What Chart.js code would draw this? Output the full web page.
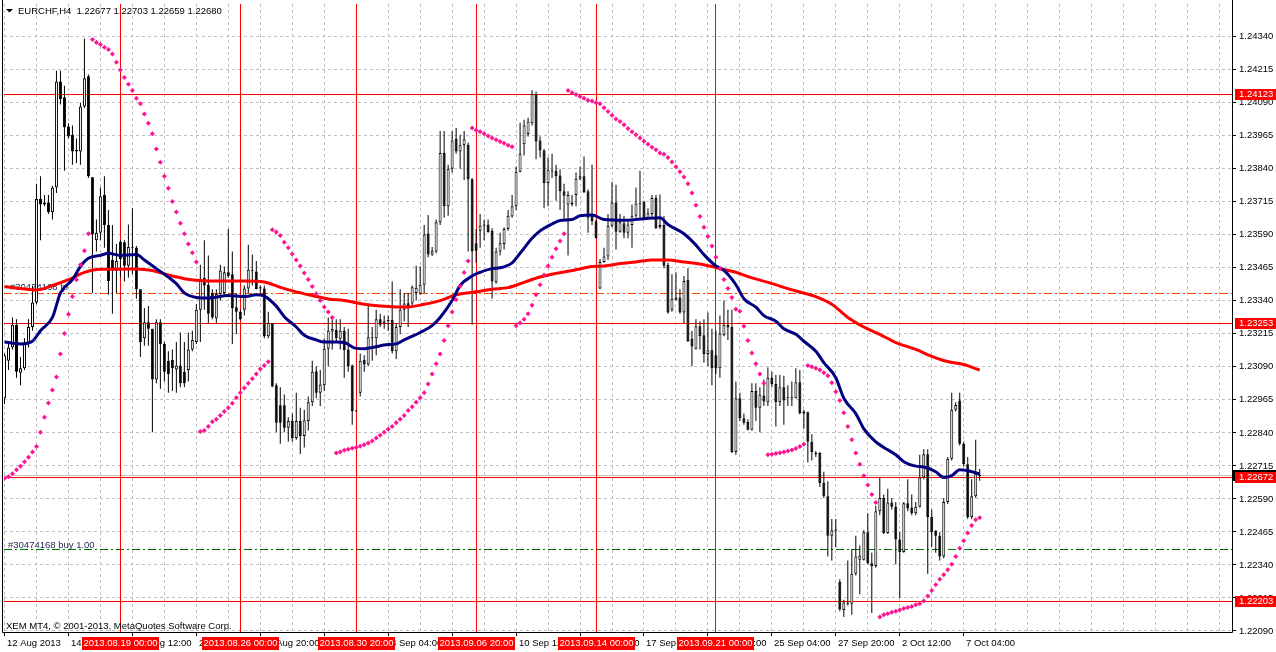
<!DOCTYPE html>
<html>
<head>
<meta charset="utf-8">
<title>EURCHF,H4</title>
<script src="https://cdn.jsdelivr.net/npm/chart.js@4.4.0/dist/chart.umd.min.js"></script>
<style>
  html, body { margin: 0; padding: 0; background: #fff; }
  canvas { display: block; }
</style>
</head>
<body>
<canvas id="chart" width="1276" height="652"></canvas>
<script>
// Данные графика EURCHF, H4 (номер бара = позиция по оси X)
const timeLabels = ['12 Aug 2013', '14 Aug 16:00', '19 Aug 12:00', '22 Aug 04:00', '26 Aug 20:00', '29 Aug 12:00',
    '3 Sep 04:00', '5 Sep 20:00', '10 Sep 12:00', '13 Sep 04:00', '17 Sep 20:00', '20 Sep 12:00',
    '25 Sep 04:00', '27 Sep 20:00', '2 Oct 12:00', '7 Oct 04:00'];

const priceTicks = [1.22090, 1.22215, 1.22340, 1.22465, 1.22590, 1.22715, 1.22840, 1.22965, 1.23090, 1.23215,
    1.23340, 1.23465, 1.23590, 1.23715, 1.23840, 1.23965, 1.24090, 1.24215, 1.24340];

const opens = [
    1.22971, 1.23113, 1.23163, 1.23249, 1.23068, 1.23085, 1.23177, 1.23241, 1.23334, 1.23726,
    1.23705, 1.23712, 1.23676, 1.23769, 1.24171, 1.24111, 1.24000, 1.23969, 1.23905, 1.23905,
    1.24076, 1.24190, 1.23808, 1.23569, 1.23598, 1.23741, 1.23627, 1.23495, 1.23455, 1.23565,
    1.23562, 1.23473, 1.23544, 1.23541, 1.23384, 1.23198, 1.23259, 1.23234, 1.23042, 1.23259,
    1.23177, 1.23113, 1.23116, 1.23080, 1.23095, 1.23071, 1.23078, 1.23156, 1.23184, 1.23306,
    1.23427, 1.23401, 1.23370, 1.23273, 1.23366, 1.23370, 1.23448, 1.23441, 1.23316, 1.23299,
    1.23306, 1.23387, 1.23452, 1.23451, 1.23391, 1.23387, 1.23206, 1.23256, 1.23020, 1.22945,
    1.22945, 1.22859, 1.22885, 1.22821, 1.22885, 1.22828, 1.22885, 1.22956, 1.23073, 1.22992,
    1.23020, 1.23159, 1.23224, 1.23230, 1.23196, 1.23227, 1.23156, 1.23095, 1.22923, 1.22992,
    1.23116, 1.23099, 1.23202, 1.23198, 1.23270, 1.23253, 1.23267, 1.23267, 1.23149, 1.23241,
    1.23306, 1.23331, 1.23330, 1.23370, 1.23367, 1.23401, 1.23595, 1.23515, 1.23527, 1.23638,
    1.23900, 1.23698, 1.23840, 1.23955, 1.23905, 1.23929, 1.23930, 1.23800, 1.23558, 1.23605,
    1.23624, 1.23629, 1.23605, 1.23410, 1.23527, 1.23555, 1.23612, 1.23659, 1.23698, 1.23829,
    1.23933, 1.23972, 1.24012, 1.24123, 1.23947, 1.23909, 1.23786, 1.23830, 1.23833, 1.23815,
    1.23755, 1.23705, 1.23705, 1.23741, 1.23802, 1.23812, 1.23755, 1.23662, 1.23641, 1.23387,
    1.23487, 1.23508, 1.23624, 1.23712, 1.23602, 1.23634, 1.23598, 1.23627, 1.23662, 1.23706,
    1.23715, 1.23652, 1.23669, 1.23729, 1.23627, 1.23627, 1.23477, 1.23306, 1.23344, 1.23353,
    1.23296, 1.23420, 1.23196, 1.23159, 1.23244, 1.23210, 1.23139, 1.23153, 1.23134, 1.23085,
    1.23210, 1.23249, 1.23241, 1.22768, 1.22971, 1.22895, 1.22881, 1.22852, 1.22999, 1.22935,
    1.22982, 1.22956, 1.23049, 1.23025, 1.22956, 1.23013, 1.22974, 1.22971, 1.22971, 1.23032,
    1.22921, 1.22918, 1.22806, 1.22764, 1.22764, 1.22650, 1.22600, 1.22450, 1.22469, 1.22275,
    1.22169, 1.22193, 1.22193, 1.22307, 1.22360, 1.22360, 1.22464, 1.22346, 1.22336, 1.22543,
    1.22593, 1.22460, 1.22576, 1.22560, 1.22436, 1.22389, 1.22574, 1.22557, 1.22536, 1.22560,
    1.22671, 1.22759, 1.22521, 1.22469, 1.22450, 1.22372, 1.22578, 1.22742, 1.22928, 1.22963,
    1.22799, 1.22721, 1.22521, 1.22600, 1.22677
];

const highs = [
    1.23141, 1.23184, 1.23277, 1.23270, 1.23127, 1.23198, 1.23270, 1.23398, 1.23783, 1.23812,
    1.23741, 1.23741, 1.23776, 1.24211, 1.24211, 1.24154, 1.24012, 1.24004, 1.23955, 1.24090,
    1.24332, 1.24197, 1.23808, 1.23648, 1.23769, 1.23812, 1.23684, 1.23627, 1.23555, 1.23569,
    1.23569, 1.23629, 1.23691, 1.23548, 1.23384, 1.23313, 1.23320, 1.23234, 1.23270, 1.23270,
    1.23184, 1.23149, 1.23156, 1.23184, 1.23220, 1.23184, 1.23220, 1.23227, 1.23327, 1.23477,
    1.23569, 1.23512, 1.23384, 1.23384, 1.23477, 1.23470, 1.23612, 1.23527, 1.23370, 1.23306,
    1.23398, 1.23552, 1.23515, 1.23491, 1.23398, 1.23398, 1.23299, 1.23256, 1.23028, 1.23013,
    1.22985, 1.22899, 1.22913, 1.22992, 1.22935, 1.22928, 1.22978, 1.23113, 1.23092, 1.23078,
    1.23198, 1.23277, 1.23277, 1.23270, 1.23270, 1.23241, 1.23234, 1.23099, 1.22928, 1.23141,
    1.23134, 1.23320, 1.23241, 1.23306, 1.23291, 1.23284, 1.23284, 1.23413, 1.23256, 1.23384,
    1.23370, 1.23370, 1.23398, 1.23473, 1.23470, 1.23627, 1.23665, 1.23544, 1.23648, 1.23983,
    1.23983, 1.23855, 1.23983, 1.23994, 1.23969, 1.23983, 1.23940, 1.23805, 1.23612, 1.23669,
    1.23648, 1.23648, 1.23615, 1.23541, 1.23598, 1.23619, 1.23684, 1.23741, 1.23848, 1.24014,
    1.24026, 1.24033, 1.24137, 1.24133, 1.23962, 1.23915, 1.23883, 1.23897, 1.23855, 1.23838,
    1.23783, 1.23755, 1.23741, 1.23826, 1.23848, 1.23887, 1.23762, 1.23855, 1.23648, 1.23498,
    1.23541, 1.23669, 1.23790, 1.23780, 1.23669, 1.23662, 1.23648, 1.23705, 1.23769, 1.23833,
    1.23719, 1.23691, 1.23741, 1.23741, 1.23743, 1.23662, 1.23484, 1.23441, 1.23448, 1.23384,
    1.23434, 1.23463, 1.23227, 1.23270, 1.23263, 1.23270, 1.23296, 1.23234, 1.23227, 1.23284,
    1.23341, 1.23306, 1.23306, 1.23035, 1.22992, 1.22913, 1.22892, 1.23028, 1.23028, 1.23013,
    1.23042, 1.23088, 1.23071, 1.23059, 1.23059, 1.23056, 1.23020, 1.23035, 1.23085, 1.23078,
    1.22928, 1.22921, 1.22835, 1.22771, 1.22768, 1.22693, 1.22657, 1.22514, 1.22514, 1.22286,
    1.22208, 1.22357, 1.22400, 1.22450, 1.22414, 1.22471, 1.22536, 1.22386, 1.22564, 1.22671,
    1.22607, 1.22628, 1.22593, 1.22578, 1.22464, 1.22578, 1.22664, 1.22607, 1.22578, 1.22757,
    1.22778, 1.22778, 1.22550, 1.22471, 1.22464, 1.22593, 1.22749, 1.22992, 1.22956, 1.22992,
    1.22806, 1.22749, 1.22664, 1.22814, 1.22703
];

const lows = [
    1.22949, 1.23078, 1.23156, 1.23049, 1.23020, 1.23078, 1.23163, 1.23227, 1.23327, 1.23569,
    1.23698, 1.23669, 1.23648, 1.23748, 1.24083, 1.23833, 1.23955, 1.23855, 1.23862, 1.23855,
    1.24069, 1.23805, 1.23370, 1.23527, 1.23569, 1.23541, 1.23363, 1.23291, 1.23370, 1.23427,
    1.23413, 1.23427, 1.23441, 1.23348, 1.23127, 1.23170, 1.23170, 1.22842, 1.23028, 1.23006,
    1.23035, 1.22992, 1.22999, 1.22992, 1.23013, 1.23013, 1.23035, 1.23149, 1.23177, 1.23184,
    1.23306, 1.23256, 1.23270, 1.23256, 1.23341, 1.23363, 1.23427, 1.23177, 1.23213, 1.23267,
    1.23284, 1.23370, 1.23398, 1.23384, 1.23370, 1.23198, 1.23198, 1.23013, 1.22842, 1.22799,
    1.22842, 1.22806, 1.22806, 1.22814, 1.22760, 1.22785, 1.22849, 1.22942, 1.22971, 1.22942,
    1.22999, 1.23092, 1.23156, 1.23184, 1.23156, 1.23049, 1.23071, 1.22871, 1.22920, 1.22978,
    1.23071, 1.23092, 1.23113, 1.23134, 1.23241, 1.23234, 1.23227, 1.23141, 1.23120, 1.23213,
    1.23263, 1.23241, 1.23320, 1.23341, 1.23363, 1.23370, 1.23505, 1.23510, 1.23520, 1.23627,
    1.23655, 1.23662, 1.23826, 1.23897, 1.23840, 1.23798, 1.23527, 1.23249, 1.23484, 1.23541,
    1.23569, 1.23598, 1.23348, 1.23405, 1.23512, 1.23534, 1.23605, 1.23655, 1.23684, 1.23826,
    1.23890, 1.23962, 1.24004, 1.23876, 1.23883, 1.23691, 1.23698, 1.23805, 1.23719, 1.23684,
    1.23648, 1.23512, 1.23698, 1.23698, 1.23798, 1.23748, 1.23598, 1.23627, 1.23577, 1.23384,
    1.23484, 1.23495, 1.23619, 1.23534, 1.23598, 1.23577, 1.23577, 1.23541, 1.23655, 1.23655,
    1.23648, 1.23648, 1.23655, 1.23612, 1.23612, 1.23463, 1.23291, 1.23299, 1.23341, 1.23291,
    1.23256, 1.23184, 1.23092, 1.23156, 1.23156, 1.23106, 1.23092, 1.23020, 1.23063, 1.23049,
    1.23206, 1.23192, 1.22764, 1.22757, 1.22885, 1.22871, 1.22849, 1.22849, 1.22885, 1.22842,
    1.22942, 1.22942, 1.23013, 1.22864, 1.22942, 1.22871, 1.22942, 1.22942, 1.22971, 1.22911,
    1.22856, 1.22728, 1.22735, 1.22749, 1.22635, 1.22593, 1.22372, 1.22357, 1.22407, 1.22165,
    1.22143, 1.22186, 1.22151, 1.22300, 1.22229, 1.22357, 1.22343, 1.22158, 1.22329, 1.22528,
    1.22457, 1.22457, 1.22550, 1.22343, 1.22215, 1.22386, 1.22543, 1.22528, 1.22528, 1.22557,
    1.22664, 1.22307, 1.22407, 1.22386, 1.22357, 1.22365, 1.22571, 1.22735, 1.22921, 1.22792,
    1.22714, 1.22514, 1.22514, 1.22593, 1.22659
];

const closes = [
    1.23134, 1.23163, 1.23249, 1.23071, 1.23085, 1.23177, 1.23241, 1.23334, 1.23726, 1.23705,
    1.23712, 1.23676, 1.23769, 1.24171, 1.24104, 1.23997, 1.23962, 1.23905, 1.23912, 1.24076,
    1.24183, 1.23812, 1.23591, 1.23598, 1.23736, 1.23627, 1.23415, 1.23455, 1.23491, 1.23498,
    1.23473, 1.23544, 1.23541, 1.23384, 1.23184, 1.23259, 1.23234, 1.23042, 1.23259, 1.23177,
    1.23071, 1.23063, 1.23085, 1.23095, 1.23028, 1.23028, 1.23156, 1.23192, 1.23306, 1.23420,
    1.23398, 1.23291, 1.23277, 1.23366, 1.23455, 1.23448, 1.23434, 1.23313, 1.23299, 1.23270,
    1.23387, 1.23458, 1.23455, 1.23384, 1.23387, 1.23206, 1.23256, 1.23016, 1.22878, 1.22878,
    1.22859, 1.22885, 1.22821, 1.22885, 1.22828, 1.22888, 1.22956, 1.23071, 1.22992, 1.23023,
    1.23159, 1.23227, 1.23234, 1.23198, 1.23227, 1.23153, 1.23092, 1.22923, 1.22921, 1.23113,
    1.23099, 1.23202, 1.23198, 1.23270, 1.23249, 1.23263, 1.23264, 1.23149, 1.23241, 1.23306,
    1.23330, 1.23313, 1.23391, 1.23390, 1.23401, 1.23591, 1.23515, 1.23530, 1.23638, 1.23900,
    1.23698, 1.23840, 1.23947, 1.23905, 1.23929, 1.23952, 1.23800, 1.23527, 1.23530, 1.23624,
    1.23629, 1.23601, 1.23413, 1.23527, 1.23558, 1.23612, 1.23662, 1.23698, 1.23829, 1.23897,
    1.24004, 1.24019, 1.24123, 1.23943, 1.23909, 1.23786, 1.23836, 1.23833, 1.23812, 1.23755,
    1.23738, 1.23741, 1.23712, 1.23802, 1.23812, 1.23751, 1.23655, 1.23641, 1.23577, 1.23487,
    1.23508, 1.23624, 1.23712, 1.23602, 1.23638, 1.23598, 1.23629, 1.23662, 1.23709, 1.23709,
    1.23652, 1.23672, 1.23729, 1.23615, 1.23619, 1.23473, 1.23296, 1.23348, 1.23353, 1.23296,
    1.23415, 1.23187, 1.23167, 1.23244, 1.23206, 1.23139, 1.23153, 1.23085, 1.23085, 1.23216,
    1.23249, 1.23239, 1.22768, 1.22971, 1.22896, 1.22878, 1.22852, 1.22999, 1.22935, 1.22985,
    1.22959, 1.23049, 1.23025, 1.22956, 1.23013, 1.22963, 1.22971, 1.22974, 1.23032, 1.22913,
    1.22913, 1.22806, 1.22768, 1.22759, 1.22650, 1.22600, 1.22450, 1.22471, 1.22474, 1.22172,
    1.22198, 1.22198, 1.22307, 1.22372, 1.22375, 1.22464, 1.22346, 1.22336, 1.22543, 1.22593,
    1.22460, 1.22576, 1.22560, 1.22436, 1.22389, 1.22574, 1.22554, 1.22536, 1.22560, 1.22671,
    1.22759, 1.22521, 1.22464, 1.22450, 1.22372, 1.22578, 1.22742, 1.22928, 1.22946, 1.22799,
    1.22721, 1.22521, 1.22600, 1.22685, 1.22680
];

// Parabolic SAR, по одному значению на бар
const sar = [
    1.22667, 1.22674, 1.22685, 1.22700, 1.22714, 1.22731, 1.22748, 1.22768, 1.22788, 1.22842,
    1.22899, 1.22953, 1.23002, 1.23052, 1.23139, 1.23216, 1.23289, 1.23356, 1.23420, 1.23477,
    1.23530, 1.23594, 1.24330, 1.24318, 1.24311, 1.24300, 1.24292, 1.24275, 1.24243, 1.24214,
    1.24186, 1.24160, 1.24136, 1.24107, 1.24086, 1.24047, 1.24012, 1.23973, 1.23915, 1.23865,
    1.23812, 1.23766, 1.23716, 1.23676, 1.23634, 1.23594, 1.23555, 1.23522, 1.23487, 1.22845,
    1.22849, 1.22864, 1.22882, 1.22892, 1.22906, 1.22921, 1.22935, 1.22952, 1.22973, 1.22992,
    1.23010, 1.23028, 1.23045, 1.23063, 1.23082, 1.23095, 1.23109, 1.23609, 1.23601, 1.23587,
    1.23562, 1.23541, 1.23517, 1.23495, 1.23472, 1.23445, 1.23421, 1.23394, 1.23367, 1.23341,
    1.23317, 1.23298, 1.23277, 1.22764, 1.22768, 1.22774, 1.22778, 1.22782, 1.22785, 1.22789,
    1.22795, 1.22802, 1.22809, 1.22821, 1.22831, 1.22842, 1.22854, 1.22864, 1.22878, 1.22892,
    1.22906, 1.22925, 1.22939, 1.22956, 1.22973, 1.22992, 1.23025, 1.23063, 1.23102, 1.23139,
    1.23190, 1.23246, 1.23298, 1.23344, 1.23395, 1.23447, 1.23491, 1.23994, 1.23986, 1.23980,
    1.23973, 1.23964, 1.23957, 1.23950, 1.23943, 1.23937, 1.23929, 1.23923, 1.23246, 1.23256,
    1.23270, 1.23291, 1.23323, 1.23363, 1.23401, 1.23438, 1.23472, 1.23505, 1.23537, 1.23567,
    1.23594, 1.24136, 1.24128, 1.24121, 1.24114, 1.24107, 1.24100, 1.24097, 1.24090, 1.24086,
    1.24071, 1.24057, 1.24043, 1.24029, 1.24019, 1.24007, 1.23993, 1.23980, 1.23969, 1.23957,
    1.23944, 1.23933, 1.23922, 1.23912, 1.23900, 1.23895, 1.23883, 1.23866, 1.23848, 1.23829,
    1.23809, 1.23783, 1.23748, 1.23702, 1.23659, 1.23619, 1.23584, 1.23548, 1.23505, 1.23462,
    1.23421, 1.23387, 1.23353, 1.23308, 1.23301, 1.23244, 1.23190, 1.23142, 1.23102, 1.23063,
    1.23028, 1.22757, 1.22759, 1.22762, 1.22765, 1.22768, 1.22771, 1.22775, 1.22781, 1.22788,
    1.22797, 1.23095, 1.23090, 1.23085, 1.23078, 1.23068, 1.23056, 1.23030, 1.22996, 1.22963,
    1.22916, 1.22864, 1.22814, 1.22764, 1.22721, 1.22678, 1.22643, 1.22607, 1.22576, 1.22143,
    1.22151, 1.22155, 1.22161, 1.22165, 1.22169, 1.22175, 1.22179, 1.22183, 1.22189, 1.22193,
    1.22203, 1.22222, 1.22243, 1.22265, 1.22286, 1.22303, 1.22322, 1.22343, 1.22372, 1.22403,
    1.22432, 1.22461, 1.22489, 1.22511, 1.22519
];

const blueIdx = [0, 4, 7, 9, 12, 14, 17, 19, 21, 24, 26, 29, 33, 35, 38, 40, 43, 45, 48, 51,
    56, 60, 63, 65, 68, 70, 73, 75, 78, 80, 83, 85, 88, 90, 93, 95, 98, 100, 104, 107,
    109, 112, 114, 117, 119, 122, 124, 127, 129, 132, 134, 137, 139, 142, 144, 147, 150, 155, 160, 164,
    166, 170, 173, 175, 178, 180, 183, 185, 188, 190, 193, 195, 198, 200, 203, 205, 208, 210, 213, 215,
    218, 220, 223, 225, 228, 230, 233, 235, 237, 239, 242, 244];
const blueMA = [1.23184, 1.23177, 1.23187, 1.23227, 1.23277, 1.23370, 1.23420, 1.23470, 1.23501, 1.23512,
    1.23520, 1.23512, 1.23515, 1.23495, 1.23462, 1.23441, 1.23405, 1.23370, 1.23353, 1.23351,
    1.23360, 1.23356, 1.23363, 1.23358, 1.23320, 1.23280, 1.23241, 1.23210, 1.23192, 1.23184,
    1.23184, 1.23182, 1.23160, 1.23159, 1.23166, 1.23173, 1.23177, 1.23192, 1.23220, 1.23246,
    1.23277, 1.23341, 1.23398, 1.23434, 1.23448, 1.23462, 1.23465, 1.23484, 1.23520, 1.23577,
    1.23605, 1.23631, 1.23644, 1.23648, 1.23662, 1.23665, 1.23648, 1.23645, 1.23651, 1.23655,
    1.23629, 1.23594, 1.23551, 1.23515, 1.23472, 1.23455, 1.23401, 1.23348, 1.23316, 1.23284,
    1.23263, 1.23234, 1.23213, 1.23187, 1.23149, 1.23106, 1.23049, 1.22971, 1.22913, 1.22856,
    1.22806, 1.22785, 1.22757, 1.22731, 1.22714, 1.22711, 1.22693, 1.22671, 1.22678, 1.22700,
    1.22693, 1.22685];

// Медленная скользящая (красная)
const redIdx = [0, 4, 8, 12, 16, 20, 24, 29, 33, 37, 41, 45, 49, 52, 56, 60, 65, 69, 73, 77,
    81, 85, 90, 94, 98, 101, 105, 109, 113, 118, 122, 126, 130, 134, 138, 143, 147, 150, 154, 158,
    162, 166, 170, 175, 179, 183, 187, 191, 195, 198, 203, 207, 211, 215, 219, 223, 228, 232, 236, 240, 244];
const redMA = [1.23394, 1.23387, 1.23381, 1.23398, 1.23420, 1.23448, 1.23460, 1.23460, 1.23461, 1.23455,
    1.23438, 1.23424, 1.23417, 1.23415, 1.23415, 1.23415, 1.23411, 1.23391, 1.23374, 1.23360,
    1.23347, 1.23341, 1.23327, 1.23320, 1.23317, 1.23317, 1.23327, 1.23341, 1.23363, 1.23374,
    1.23384, 1.23390, 1.23410, 1.23430, 1.23444, 1.23458, 1.23470, 1.23472, 1.23481, 1.23487,
    1.23495, 1.23495, 1.23487, 1.23477, 1.23462, 1.23448, 1.23427, 1.23410, 1.23391, 1.23377,
    1.23356, 1.23327, 1.23277, 1.23241, 1.23213, 1.23182, 1.23156, 1.23130, 1.23110, 1.23099, 1.23078];

// Горизонтальные уровни, вертикальные линии и ордер
const levelLines = [1.24123, 1.23253, 1.22672, 1.22203];
const vLineBars = [29, 59, 88, 118, 148, 178];
const vLineLabels = ['2013.08.19 00:00', '2013.08.26 00:00', '2013.08.30 20:00', '2013.09.06 20:00', '2013.09.14 00:00', '2013.09.21 00:00'];
const tpPrice = 1.23369;
const buyPrice = 1.22397;
const bidPrice = 1.22680;
const titleText = 'EURCHF,H4  1.22677 1.22703 1.22659 1.22680';
const copyText = 'XEM MT4, \u00A9 2001-2013, MetaQuotes Software Corp.';

const FAMILY = '"Liberation Sans", Arial, sans-serif';
const FONT = '9.5px ' + FAMILY;

// Горизонтальная линия через всю область графика
function hLine(ctx, area, py, color, dash) {
    const yy = Math.floor(py) + 0.5;
    ctx.strokeStyle = color;
    ctx.setLineDash(dash);
    ctx.beginPath();
    ctx.moveTo(area.left, yy);
    ctx.lineTo(area.right, yy);
    ctx.stroke();
}

const mt4Overlay = {
    id: 'mt4Overlay',
    beforeDatasetsDraw(chart) {
        const { ctx, chartArea: a, scales: { x, y } } = chart;
        ctx.save();
        ctx.beginPath();
        ctx.rect(a.left, a.top, a.right - a.left, a.bottom - a.top);
        ctx.clip();
        ctx.lineWidth = 1;

        // линия Bid и линии ордера
        hLine(ctx, a, y.getPixelForValue(bidPrice), '#c0c0c0', []);
        hLine(ctx, a, y.getPixelForValue(tpPrice), '#ff4500', [8, 3, 2, 3]);
        hLine(ctx, a, y.getPixelForValue(buyPrice), '#007000', [8, 3, 2, 3]);

        // красные уровни
        levelLines.forEach(p => hLine(ctx, a, y.getPixelForValue(p), '#ff0000', []));

        // вертикальные линии
        ctx.setLineDash([]);
        ctx.strokeStyle = '#ff0000';
        vLineBars.forEach(i => {
            const px = Math.floor(x.getPixelForValue(i)) + 0.5;
            ctx.beginPath();
            ctx.moveTo(px, a.top);
            ctx.lineTo(px, a.bottom);
            ctx.stroke();
        });

        // подписи ордера
        ctx.font = FONT;
        ctx.fillStyle = '#1e2850';
        ctx.textAlign = 'left';
        ctx.textBaseline = 'alphabetic';
        ctx.fillText('#30474168 tp', 10, y.getPixelForValue(tpPrice) - 3);
        ctx.fillText('#30474168 buy 1.00', 8, y.getPixelForValue(buyPrice) - 2);
        ctx.restore();
    },
    afterDraw(chart) {
        const { ctx, chartArea: a, scales: { x, y } } = chart;
        ctx.save();

        // рамка
        ctx.strokeStyle = '#000';
        ctx.lineWidth = 1;
        ctx.beginPath();
        ctx.moveTo(2.5, 0);
        ctx.lineTo(2.5, a.bottom + 0.5);
        ctx.lineTo(a.right + 0.5, a.bottom + 0.5);
        ctx.lineTo(a.right + 0.5, 0);
        ctx.stroke();

        // заголовок
        ctx.fillStyle = '#000';
        ctx.beginPath();
        ctx.moveTo(6, 9);
        ctx.lineTo(13, 9);
        ctx.lineTo(9.5, 12.5);
        ctx.closePath();
        ctx.fill();
        ctx.font = FONT;
        ctx.textAlign = 'left';
        ctx.textBaseline = 'middle';
        ctx.fillText(titleText, 18, 11);
        ctx.fillText(copyText, 6, 626);

        // подписи времени
        timeLabels.forEach((t, k) => {
            ctx.fillText(t, Math.floor(x.getPixelForValue(k * 16)) + 3, a.bottom + 11);
        });

        // метки вертикальных линий
        ctx.textAlign = 'center';
        vLineBars.forEach((i, k) => {
            const px = Math.floor(x.getPixelForValue(i)) + 0.5;
            ctx.fillStyle = '#ff0000';
            ctx.fillRect(Math.round(px - 38.5), a.bottom + 5, 77, 13);
            ctx.fillStyle = '#fff';
            ctx.fillText(vLineLabels[k], px, a.bottom + 11.5);
        });

        // метка Bid и цены уровней на шкале
        ctx.textAlign = 'left';
        const by = Math.floor(y.getPixelForValue(bidPrice));
        ctx.fillStyle = '#000';
        ctx.fillRect(a.right + 1, by - 5, 44, 11);
        levelLines.forEach(p => {
            const py = Math.floor(y.getPixelForValue(p));
            ctx.fillStyle = '#ff0000';
            ctx.fillRect(a.right + 3, py - 5, 41, 11);
            ctx.fillStyle = '#fff';
            ctx.fillText(p.toFixed(5), a.right + 7, py + 0.5);
        });
        ctx.restore();
    }
};

// Наборы данных для свечей и индикаторов
const wickData = lows.map((l, i) => ({ x: i, y: [l, highs[i]] }));
const bodyData = opens.map((o, i) => ({ x: i, y: [o, closes[i]] }));
const blueData = blueIdx.map((i, k) => ({ x: i, y: blueMA[k] }));
const redData = redIdx.map((i, k) => ({ x: i, y: redMA[k] }));
const sarData = sar.map((v, i) => ({ x: i, y: v }));

const gridSteps = [];
for (let v = 0; v <= 304; v += 8) gridSteps.push(v);

const ctx = document.getElementById('chart').getContext('2d');
const chart = new Chart(ctx, {
    type: 'bar',
    data: {
        datasets: [
            {
                data: wickData, backgroundColor: '#000', borderWidth: 0,
                grouped: false, categoryPercentage: 1, barPercentage: 0.25, maxBarThickness: 1,
                inflateAmount: 0, order: 6
            },
            {
                data: bodyData,
                backgroundColor: c => closes[c.dataIndex] > opens[c.dataIndex] ? '#ffffff' : '#000000',
                borderColor: '#000', borderWidth: 1, borderSkipped: false, minBarLength: 1,
                grouped: false, categoryPercentage: 1, barPercentage: 0.75, maxBarThickness: 3,
                inflateAmount: 0, order: 5
            },
            {
                type: 'line', data: redData, borderColor: '#ff0000', borderWidth: 3,
                pointRadius: 0, fill: false, cubicInterpolationMode: 'monotone', order: 4
            },
            {
                type: 'line', data: blueData, borderColor: '#000080', borderWidth: 3,
                pointRadius: 0, fill: false, cubicInterpolationMode: 'monotone', order: 3
            },
            {
                type: 'line', data: sarData, showLine: false, pointStyle: 'rectRot', pointRadius: 2.5,
                pointBackgroundColor: '#ff1493', pointBorderWidth: 0, order: 2
            }
        ]
    },
    options: {
        responsive: false,
        animation: false,
        devicePixelRatio: 1,
        events: [],
        layout: { padding: { left: 3, top: 0, right: 0, bottom: 0 } },
        plugins: { legend: { display: false }, tooltip: { enabled: false } },
        scales: {
            x: {
                type: 'linear', min: -0.125, max: 307.125, offset: false,
                afterBuildTicks: s => { s.ticks = gridSteps.map(v => ({ value: v })); },
                afterFit: s => { s.height = 20; s.paddingLeft = 0; s.paddingRight = 0; },
                grid: {
                    color: '#c0c0c0', offset: false, tickLength: 4,
                    tickColor: c => (c.tick && c.tick.value % 16 === 0 && c.tick.value <= 240) ? '#000' : 'rgba(0,0,0,0)'
                },
                border: { display: false, dash: [3, 3] },
                ticks: { display: false }
            },
            y: {
                position: 'right', min: 1.22086, max: 1.24464, beginAtZero: false,
                afterBuildTicks: s => { s.ticks = priceTicks.map(v => ({ value: v })); },
                afterFit: s => { s.width = 44; s.paddingTop = 0; s.paddingBottom = 0; },
                grid: { color: '#c0c0c0', tickLength: 4, tickColor: '#000' },
                border: { display: false, dash: [3, 3] },
                ticks: {
                    autoSkip: false, padding: 3, color: '#000',
                    font: { family: FAMILY, size: 9.5 },
                    callback: v => v.toFixed(5)
                }
            }
        }
    },
    plugins: [mt4Overlay]
});
</script>
</body>
</html>
